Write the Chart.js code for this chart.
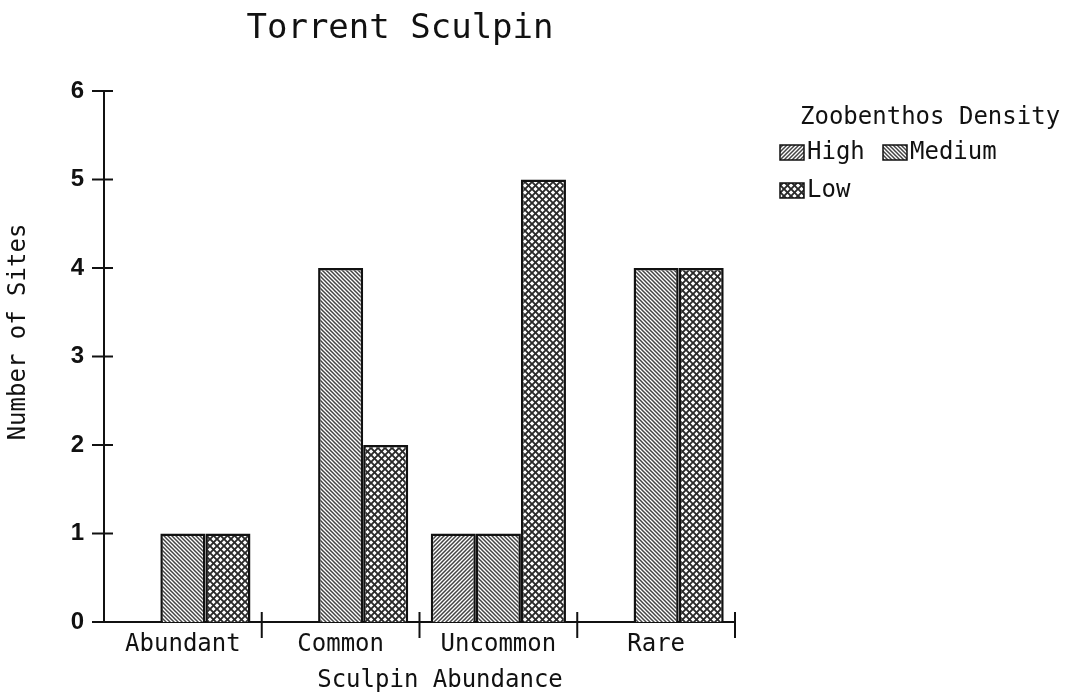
<!DOCTYPE html>
<html>
<head>
<meta charset="utf-8">
<script src="https://cdn.jsdelivr.net/npm/chart.js@4.4.0/dist/chart.umd.min.js"></script>
<style>
  html, body { margin: 0; padding: 0; background: #fff; }
  #chart { display: block; }
</style>
</head>
<body>
<canvas id="chart" width="1065" height="699"></canvas>
<script>
const categories = ['Abundant', 'Common', 'Uncommon', 'Rare'];
const seriesNames = ['High', 'Medium', 'Low'];
const highValues = [0, 0, 1, 0];
const mediumValues = [1, 4, 1, 4];
const lowValues = [1, 2, 5, 4];
const yTicks = [0, 1, 2, 3, 4, 5, 6];

const MONO = '"DejaVu Sans Mono", "Liberation Mono", monospace';
const INK = '#111';

// hatch fills like the old plotter patterns
function makePattern(kind) {
    const s = kind === 'low' ? 7 : 4;
    const c = document.createElement('canvas');
    c.width = s;
    c.height = s;
    const g = c.getContext('2d');
    g.fillStyle = '#fff';
    g.fillRect(0, 0, s, s);
    g.strokeStyle = kind === 'low' ? '#2a2a2a' : '#444';
    g.lineWidth = kind === 'low' ? 1.9 : 1.5;
    function diag(up) {
        g.beginPath();
        if (up) {
            g.moveTo(-1, s + 1); g.lineTo(s + 1, -1);
            g.moveTo(-1, 1); g.lineTo(1, -1);
            g.moveTo(s - 1, s + 1); g.lineTo(s + 1, s - 1);
        } else {
            g.moveTo(-1, -1); g.lineTo(s + 1, s + 1);
            g.moveTo(s - 1, -1); g.lineTo(s + 1, 1);
            g.moveTo(-1, s - 1); g.lineTo(1, s + 1);
        }
        g.stroke();
    }
    if (kind === 'high') diag(true);
    else if (kind === 'medium') diag(false);
    else { diag(true); diag(false); }
    return g.createPattern(c, 'repeat');
}

const fills = [makePattern('high'), makePattern('medium'), makePattern('low')];

function line(ctx, x1, y1, x2, y2) {
    ctx.beginPath();
    ctx.moveTo(x1, y1);
    ctx.lineTo(x2, y2);
    ctx.stroke();
}

const decorPlugin = {
    id: 'decor',
    afterDraw(chart) {
        const ctx = chart.ctx;
        const x = chart.scales.x;
        const y = chart.scales.y;
        ctx.save();
        ctx.strokeStyle = INK;
        ctx.lineWidth = 2;
        yTicks.forEach(v => {
            const py = y.getPixelForValue(v);
            line(ctx, y.right - 12, py, y.right + 9, py);
        });
        for (let i = 0; i < categories.length; i++) {
            const px = i < categories.length - 1
                ? (x.getPixelForValue(i) + x.getPixelForValue(i + 1)) / 2
                : x.right;
            line(ctx, px, x.top - 10, px, x.top + 16);
        }

        ctx.fillStyle = INK;
        ctx.textBaseline = 'middle';
        ctx.textAlign = 'center';
        ctx.font = '34px ' + MONO;
        ctx.fillText('Torrent Sculpin', 400, 29);
        ctx.font = '24px ' + MONO;
        ctx.fillText('Sculpin Abundance', 440, 681);

        ctx.save();
        ctx.translate(19, 332);
        ctx.rotate(-Math.PI / 2);
        ctx.fillText('Number of Sites', 0, 0);
        ctx.restore();

        // legend
        ctx.textAlign = 'left';
        ctx.fillText('Zoobenthos Density', 800, 118);
        const items = [[780, 153], [883, 153], [780, 191]];
        chart.data.datasets.forEach((ds, i) => {
            const [lx, ly] = items[i];
            ctx.fillStyle = ds.backgroundColor;
            ctx.fillRect(lx, ly - 8, 24, 15);
            ctx.lineWidth = 1.5;
            ctx.strokeRect(lx, ly - 8, 24, 15);
            ctx.fillStyle = INK;
            ctx.fillText(ds.label, lx + 27, ly);
        });
        ctx.restore();
    }
};

const ctx = document.getElementById('chart').getContext('2d');
new Chart(ctx, {
    type: 'bar',
    data: {
        labels: categories,
        datasets: [highValues, mediumValues, lowValues].map((vals, i) => ({
            label: seriesNames[i],
            data: vals,
            backgroundColor: fills[i],
            borderColor: INK,
            borderWidth: 2.5,
            categoryPercentage: 0.857,
            barPercentage: 1.0
        }))
    },
    options: {
        responsive: false,
        animation: false,
        layout: { padding: { top: 91, right: 330, left: 0, bottom: 0 } },
        plugins: {
            legend: { display: false },
            title: { display: false },
            tooltip: { enabled: false }
        },
        scales: {
            x: {
                grid: { display: false, drawTicks: false },
                border: { color: INK, width: 2 },
                ticks: { color: INK, padding: 8, font: { family: MONO, size: 24 } },
                afterFit: s => { s.height = 77; }
            },
            y: {
                min: 0,
                max: 6,
                grid: { display: false, drawTicks: false },
                border: { color: INK, width: 2 },
                ticks: {
                    stepSize: 1,
                    color: INK,
                    padding: 20,
                    font: { family: 'Arimo, "Liberation Sans", Arial, sans-serif', size: 24, weight: 'bold' }
                },
                afterFit: s => { s.width = 104; }
            }
        }
    },
    plugins: [decorPlugin]
});
</script>
</body>
</html>
